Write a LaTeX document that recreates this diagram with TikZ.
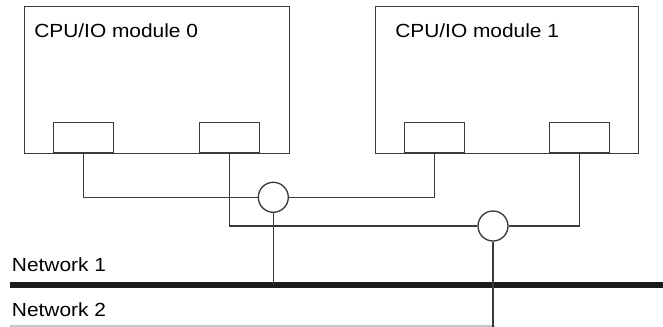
\documentclass[tikz,border=0pt]{standalone}
\usepackage{fontspec}
\setmainfont{Liberation Sans}
\begin{document}
\begin{tikzpicture}[x=0.75pt,y=-0.75pt,
  wire/.style={draw=linegray,line width=1pt},
  modbox/.style={draw=linegray,line width=1pt,rectangle,inner sep=0,anchor=north west},
  portbox/.style={draw=linegray,line width=1pt,rectangle,inner sep=0,minimum width=45pt,minimum height=22.5pt,anchor=south west},
  hub/.style={draw=linegray,line width=1pt,circle,inner sep=0,minimum size=22.5pt,fill=white},
  lbl/.style={inner sep=0,anchor=base west,font=\fontsize{14.25pt}{16pt}\selectfont}]
\definecolor{linegray}{HTML}{3A3A3A}
\definecolor{netblack}{HTML}{1C1C1C}
\useasboundingbox (0,0) rectangle (663,327);
\fill[white] (0,0) rectangle (663,327);
% modules
\node[modbox,minimum width=198.75pt,minimum height=110.25pt] (m0) at (24,6) {};
\node[modbox,minimum width=197.25pt,minimum height=110.25pt] (m1) at (375,6) {};
\node[lbl] (t0) at (34,37.3) {\scalebox{1.1}[1]{CPU/IO module 0}};
\node[lbl] (t1) at (395,37.3) {\scalebox{1.1}[1]{CPU/IO module 1}};
% ports
\node[portbox] (p0a) at (53,153) {};
\node[portbox] (p0b) at (199,153) {};
\node[portbox] (p1a) at (404,153) {};
\node[portbox] (p1b) at (549,153) {};
% network lines
\coordinate (n1l) at (10,285);
\coordinate (n1r) at (663,285);
\coordinate (n2l) at (10,326);
\coordinate (n2r) at (495,326);
\draw[netblack,line width=4.1pt] (n1l) -- (n1r);
\draw[gray!45,line width=1.2pt] (n2l) -- (n2r);
\node[lbl] (tn1) at (11.7,271.7) {\scalebox{1.1}[1]{Network 1}};
\node[lbl] (tn2) at (11.7,316.7) {\scalebox{1.1}[1]{Network 2}};
% hubs
\node[hub] (c1) at (273.3,197.3) {};
\node[hub] (c2) at (493,226) {};
\coordinate (c2down) at (493,327);
% wires
\draw[wire] (p0a.south) |- (c1.west);
\draw[wire] (p1a.south) |- (c1.east);
\draw[wire] (p0b.south) |- (c2.west);
\draw[wire] (p1b.south) |- (c2.east);
\draw[wire] (c1.south) -- (c1.south |- n1l);
\draw[wire] (c2.south) -- (c2down);
\end{tikzpicture}
\end{document}
